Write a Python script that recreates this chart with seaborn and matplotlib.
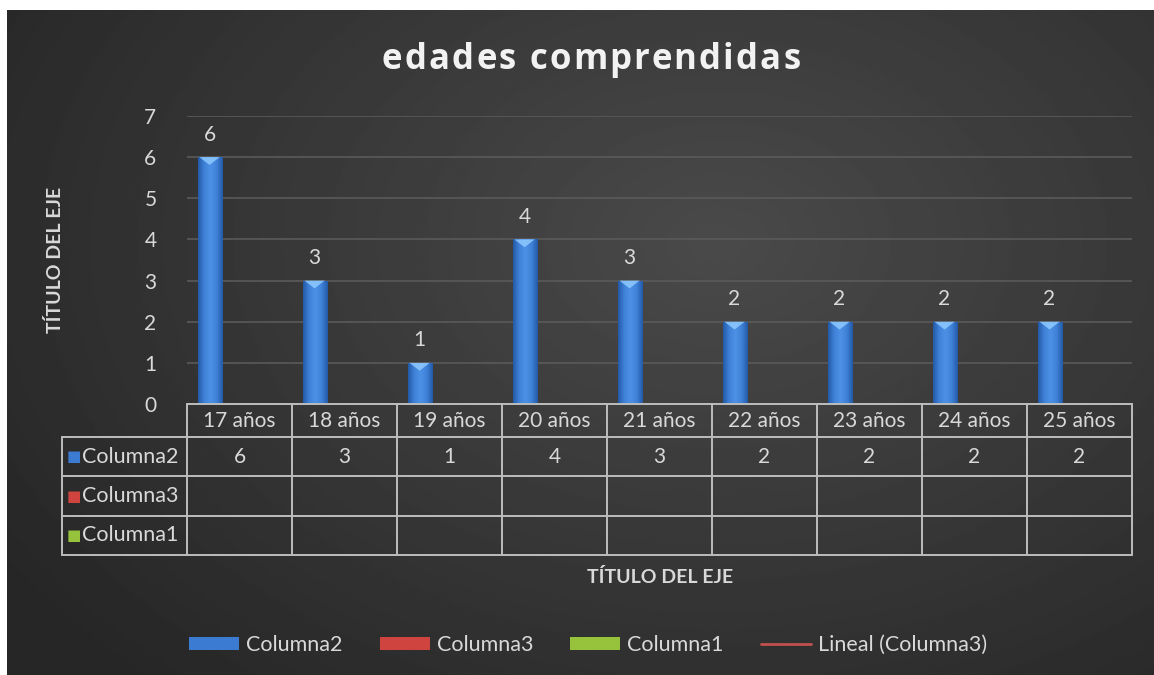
import numpy as np
import pandas as pd
import matplotlib
matplotlib.use("Agg")
import matplotlib.pyplot as plt
import matplotlib.transforms as mtransforms
from matplotlib.patches import Patch, Polygon
from matplotlib.lines import Line2D
from matplotlib.colors import LinearSegmentedColormap
import seaborn as sns

# ---------------- datos ----------------
categorias = ["17 años", "18 años", "19 años", "20 años", "21 años",
              "22 años", "23 años", "24 años", "25 años"]
columna2 = [6, 3, 1, 4, 3, 2, 2, 2, 2]
columna3 = [np.nan] * 9
columna1 = [np.nan] * 9
series = ["Columna2", "Columna3", "Columna1"]
titulo = "edades comprendidas"
titulo_eje = "TÍTULO DEL EJE"

colores = {"Columna2": "#3b7bd2", "Columna3": "#d0443f", "Columna1": "#97c33c"}
texto = "#d9d9d9"

df = pd.DataFrame({
    "categoria": categorias * 3,
    "serie": sum([[s] * 9 for s in series], []),
    "valor": columna2 + columna3 + columna1,
})
df["altura"] = df["valor"].fillna(0)

sns.set_theme(style="dark")
plt.rcParams["font.family"] = ["Lato", "DejaVu Sans"]

fig = plt.figure(figsize=(11.54, 6.75), dpi=100, facecolor="white")

# fondo con degradado radial
bg = fig.add_axes([7 / 1154, 0, 1147 / 1154, 665 / 675])
yy, xx = np.mgrid[0:1:300j, 0:1:500j]
d = np.sqrt(((xx - 0.62) / 0.75) ** 2 + ((yy - 0.35) / 0.9) ** 2)
v = np.clip(0.29 - 0.14 * d, 0.15, 0.3)
bg.imshow(v, cmap="gray", vmin=0, vmax=1, aspect="auto", extent=[0, 1, 1, 0])
bg.set_axis_off()

ax = fig.add_axes([187 / 1154, 271 / 675, 945 / 1154, 288 / 675])
ax.set_facecolor("none")

sns.barplot(data=df, x="categoria", y="altura", hue="serie", order=categorias,
            hue_order=series, palette=colores, width=0.8, linewidth=0,
            legend=False, ax=ax)

# barras algo más estrechas que el hueco (como en Excel)
for cont in ax.containers:
    for p in cont:
        p.set_width(p.get_width() * 0.86)

# degradado horizontal y bisel claro arriba de cada barra
cmap_barra = LinearSegmentedColormap.from_list(
    "barra", ["#245aa8", "#3f82d8", "#4d91e6", "#3f82d8", "#245aa8"])
grad = np.linspace(0, 1, 64).reshape(1, -1)
for p in ax.containers[0]:
    x0, w, h = p.get_x(), p.get_width(), p.get_height()
    if h <= 0:
        continue
    im = ax.imshow(grad, cmap=cmap_barra, aspect="auto",
                   extent=[x0, x0 + w, 0, h], zorder=p.get_zorder() + 0.1)
    im.set_clip_path(p)
    ax.add_patch(Polygon([(x0 + 0.08 * w, h), (x0 + 0.92 * w, h), (x0 + 0.5 * w, h - 0.19)],
                         closed=True, facecolor="#8fc9ff", edgecolor="none",
                         alpha=0.85, zorder=p.get_zorder() + 0.2))

ax.bar_label(ax.containers[0], labels=[str(v) for v in columna2],
             padding=9, color=texto, fontsize=15)

ax.set_ylim(0, 7)
ax.set_xlim(-0.5, len(categorias) - 0.5)
ax.set_yticks(range(0, 8))
ax.tick_params(axis="y", colors=texto, labelsize=15, length=0, pad=22)
ax.set_xticks([])
ax.set_xlabel("")
ax.set_ylabel("")
ax.grid(axis="y", color="#5a5a5a", linewidth=1.2)
ax.grid(axis="x", visible=False)
ax.set_axisbelow(True)
for s in ax.spines.values():
    s.set_visible(False)

# ---------------- tabla de datos ----------------
trans = mtransforms.blended_transform_factory(ax.transData, ax.transAxes)
lc = "#bdbdbd"
lw = 1.4
n = len(categorias)
filas = [0, -0.1146, -0.25, -0.389, -0.524]
x_izq = -1.69

ax.plot([-0.5, n - 0.5], [0, 0], color=lc, lw=lw, transform=trans, clip_on=False)
for y in filas[1:]:
    ax.plot([x_izq, n - 0.5], [y, y], color=lc, lw=lw, transform=trans, clip_on=False)
for i in range(n + 1):
    ax.plot([i - 0.5, i - 0.5], [0, filas[-1]], color=lc, lw=lw,
            transform=trans, clip_on=False)
ax.plot([x_izq, x_izq], [filas[1], filas[-1]], color=lc, lw=lw,
        transform=trans, clip_on=False)

for i, cat in enumerate(categorias):
    ax.text(i, (filas[0] + filas[1]) / 2, cat, ha="center", va="center",
            color=texto, fontsize=15, transform=trans)

valores = {"Columna2": columna2, "Columna3": columna3, "Columna1": columna1}
for k, s in enumerate(series):
    ymid = (filas[k + 1] + filas[k + 2]) / 2
    ax.text(x_izq + 0.115, ymid, "■", ha="center", va="center",
            color=colores[s], fontsize=11, transform=trans,
            family=["DejaVu Sans"])
    ax.text(x_izq + 0.19, ymid, s, ha="left", va="center", color=texto,
            fontsize=15.5, transform=trans)
    for i, val in enumerate(valores[s]):
        if not pd.isna(val):
            ax.text(i, ymid, str(int(val)), ha="center", va="center",
                    color=texto, fontsize=15, transform=trans)

# ---------------- títulos ----------------
# título con espaciado entre letras
r = fig.canvas.get_renderer()
tam_titulo = 25
tracking = 2.2  # px extra por letra
def ancho(s):
    if not s:
        return 0.0
    t = fig.text(0, 0, s, fontsize=tam_titulo, fontweight="bold",
                 family=["Open Sans", "DejaVu Sans"])
    w = t.get_window_extent(renderer=r).width
    t.remove()
    return w

total = ancho(titulo) + tracking * (len(titulo) - 1)
x_ini = 591 - total / 2
for i, ch in enumerate(titulo):
    if ch == " ":
        continue
    xp = x_ini + ancho(titulo[:i]) + tracking * i
    fig.text(xp / 1154, 1 - 60 / 675, ch, ha="left", va="center",
             color="#f2f2f2", fontsize=tam_titulo, fontweight="bold",
             family=["Open Sans", "DejaVu Sans"])

fig.text(660 / 1154, 1 - 577 / 675, titulo_eje, ha="center", va="center",
         color=texto, fontsize=14, fontweight="bold")
fig.text(55 / 1154, 1 - 260 / 675, titulo_eje, ha="center", va="center",
         rotation=90, color=texto, fontsize=14, fontweight="bold")

# ---------------- leyenda ----------------
handles = [Patch(facecolor=colores[s], edgecolor="none", label=s) for s in series]
handles.append(Line2D([0], [0], color="#c0504d", lw=2, label="Lineal (Columna3)"))
leg = fig.legend(handles=handles, loc="center", bbox_to_anchor=(588 / 1154, 1 - 645 / 675),
                 ncol=4, frameon=False, fontsize=15.5, handlelength=2.32,
                 handleheight=0.55, handletextpad=0.33, columnspacing=1.72)
for t in leg.get_texts():
    t.set_color(texto)

fig.savefig("out.png", dpi=100, facecolor="white")
